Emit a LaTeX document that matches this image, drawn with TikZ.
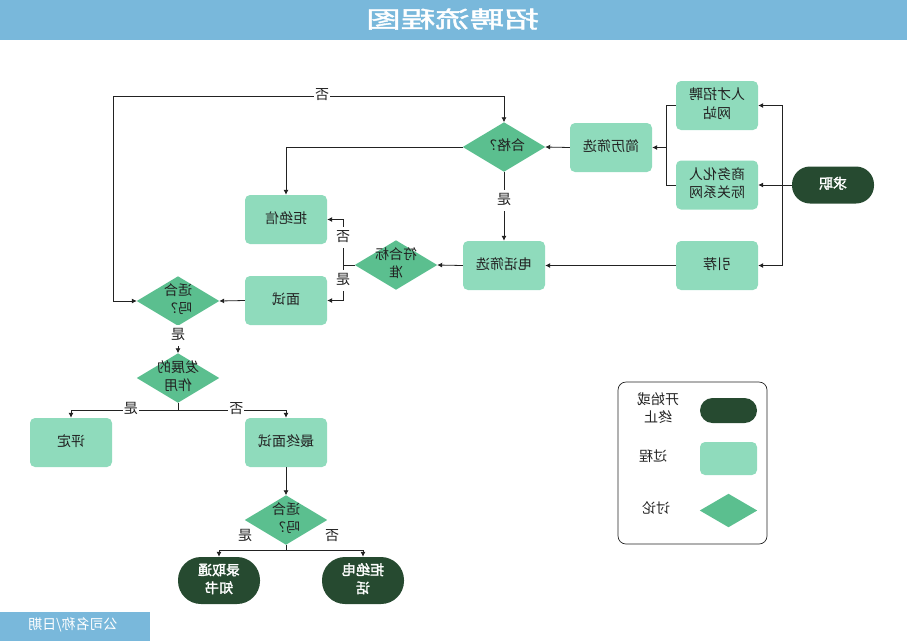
\documentclass[tikz,border=0pt]{standalone}
\usepackage{fontspec}
\setmainfont{Noto Sans CJK SC}
\newfontfamily\boldcjk{Noto Sans CJK SC}[FakeBold=2]
\newfontfamily\titlecjk{Noto Sans CJK SC}[FakeBold=1.5]
\usetikzlibrary{arrows.meta}
\definecolor{procC}{HTML}{8FDBBC}
\definecolor{diaC}{HTML}{5BBF8F}
\definecolor{termC}{HTML}{264A30}
\definecolor{barC}{HTML}{79B8DB}
\definecolor{inkC}{HTML}{222222}
\newcommand\mirtxt[1]{\reflectbox{\begin{tabular}{@{}c@{}}#1\end{tabular}}}
\tikzset{
  proc/.style={fill=procC, rounded corners=5pt, minimum width=82, minimum height=49, inner sep=0, text=inkC},
  term/.style={fill=termC, rounded corners=18pt, minimum width=82, minimum height=37, inner sep=0, text=white, font=\boldcjk\fontsize{14}{18}\selectfont},
  termbig/.style={term, minimum height=47, rounded corners=23pt},
  dia/.style={minimum width=82, minimum height=49, inner sep=0, text=inkC},
  lbl/.style={fill=white, inner sep=1pt, text=inkC},
  conn/.style={draw=inkC, line width=0.8pt, -{Latex[length=5pt,width=5pt]}},
  plain/.style={draw=inkC, line width=0.8pt},
}
\newcommand\diam[1]{\fill[diaC] (#1.north) -- (#1.east) -- (#1.south) -- (#1.west) -- cycle;}
\begin{document}
\begin{tikzpicture}[x=1pt,y=-1pt, font=\fontsize{14}{18.5}\selectfont]
\useasboundingbox (0,0) rectangle (907,641);
% title bar
\fill[barC] (0,0) rectangle (907,40);
\node[text=white, font=\titlecjk\fontsize{23}{26}\selectfont] (title) at (452.5,19) {\scalebox{-1.5}[1]{招聘流程图}};
% footer
\fill[barC] (0,612) rectangle (150,641);
\node[text=white, font=\fontsize{14}{16}\selectfont] (footer) at (73,626) {\mirtxt{公司名称/日期}};

% diamonds: anchor nodes first, shapes drawn, then texts
\node[dia] (hg) at (504,147) {};
\node[dia] (fh) at (396,265) {};
\node[dia] (fit1) at (178,301) {};
\node[dia] (fz) at (178,378) {};
\node[dia] (fit2) at (286,520) {};
\diam{hg}\diam{fh}\diam{fit1}\diam{fz}\diam{fit2}
\node[text=inkC] (hgT) at (hg) {\mirtxt{合格？}};
\node[text=inkC] (fhT) at (fh) {\mirtxt{符合标\\准}};
\node[text=inkC] (fit1T) at (fit1) {\mirtxt{适合\\吗？}};
\node[text=inkC] (fzT) at (fz) {\mirtxt{发展的\\作用}};
\node[text=inkC] (fit2T) at (fit2) {\mirtxt{适合\\吗？}};

% process boxes
\node[proc] (rc) at (717,105.5) {\mirtxt{人才招聘\\网站}};
\node[proc] (sw) at (717,185) {\mirtxt{商务化人\\际关系网}};
\node[proc] (yj) at (717,265.5) {\mirtxt{引荐}};
\node[proc] (jl) at (611,147.5) {\mirtxt{简历筛选}};
\node[proc] (dh) at (504,265.5) {\mirtxt{电话筛选}};
\node[proc] (jx) at (286,219.5) {\mirtxt{拒绝信}};
\node[proc] (ms) at (286,300.5) {\mirtxt{面试}};
\node[proc] (pd) at (71,442.5) {\mirtxt{评定}};
\node[proc] (zz) at (286,442.5) {\mirtxt{最终面试}};

% terminals
\node[term] (qz) at (833,185) {\mirtxt{求职}};
\node[termbig] (lq) at (219,580.5) {\mirtxt{录取通\\知书}};
\node[termbig] (jd) at (363,580.5) {\mirtxt{拒绝电\\话}};

% connectors
\coordinate (j1) at (782,185);
\draw[plain] (qz.west) -- (j1);
\draw[conn] (j1) |- (rc.east);
\draw[conn] (j1) -- (sw.east);
\draw[conn] (j1) |- (yj.east);
\coordinate (j2) at (666,147.5);
\draw[plain] (rc.west) -| (j2);
\draw[plain] (sw.west) -| (j2);
\draw[conn] (j2) -- (jl.east);
\draw[conn] (jl.west) -- (hg.east);
\draw[conn] (hg.west) -| (jx.north);
\draw[conn] (hg.south) -- node[lbl, pos=0.42] (l1) {\mirtxt{是}} (dh.north);
\draw[conn] (yj.west) -- (dh.east);
\draw[conn] (dh.west) -- (fh.east);
\coordinate (j3) at (343,265);
\draw[plain] (fh.west) -- (j3);
\draw[conn] (j3) |- node[lbl, pos=0.3] (l2) {\mirtxt{否}} (jx.east);
\draw[conn] (j3) |- node[lbl, pos=0.22] (l3) {\mirtxt{是}} (ms.east);
\draw[conn] (ms.west) -- (fit1.east);
\coordinate (c1) at (113,96);
\coordinate (c2) at (504,96);
\draw[plain, {Latex[length=5pt,width=5pt]}-{Latex[length=5pt,width=5pt]}] (fit1.west) -| (c1) -- node[lbl, pos=0.535] (l4) {\mirtxt{否}} (c2) -- (hg.north);
\draw[conn] (fit1.south) -- node[lbl, pos=0.35] (l5) {\mirtxt{是}} (fz.north);
\coordinate (j4) at (178,410);
\draw[plain] (fz.south) -- (j4);
\draw[conn] (j4) -| node[lbl, pos=0.22] (l6) {\mirtxt{是}} (pd.north);
\draw[conn] (j4) -| node[lbl, pos=0.27] (l7) {\mirtxt{否}} (zz.north);
\draw[conn] (zz.south) -- (fit2.north);
\coordinate (j5) at (286,550);
\draw[plain] (fit2.south) -- (j5);
\draw[conn] (j5) -| (lq.north);
\draw[conn] (j5) -| (jd.north);
\node[text=inkC] (l8) at (245,537) {\mirtxt{是}};
\node[text=inkC] (l9) at (332,537) {\mirtxt{否}};

% legend
\draw[inkC, line width=0.7pt, rounded corners=8pt] (618,382) rectangle (767,544);
\node[fill=termC, rounded corners=12.5pt, minimum width=57, minimum height=25, inner sep=0] (lgT) at (728.5,410.5) {};
\node[fill=procC, rounded corners=5pt, minimum width=57, minimum height=33, inner sep=0] (lgP) at (728.5,458.5) {};
\node[minimum width=57, minimum height=33, inner sep=0] (lgD) at (728.5,510.5) {};
\diam{lgD}
\node[text=inkC] (lgTt) at (658,410) {\mirtxt{开始或\\终止}};
\node[text=inkC] (lgPt) at (653,458) {\mirtxt{过程}};
\node[text=inkC] (lgDt) at (656,510) {\mirtxt{讨论}};
\end{tikzpicture}
\end{document}
